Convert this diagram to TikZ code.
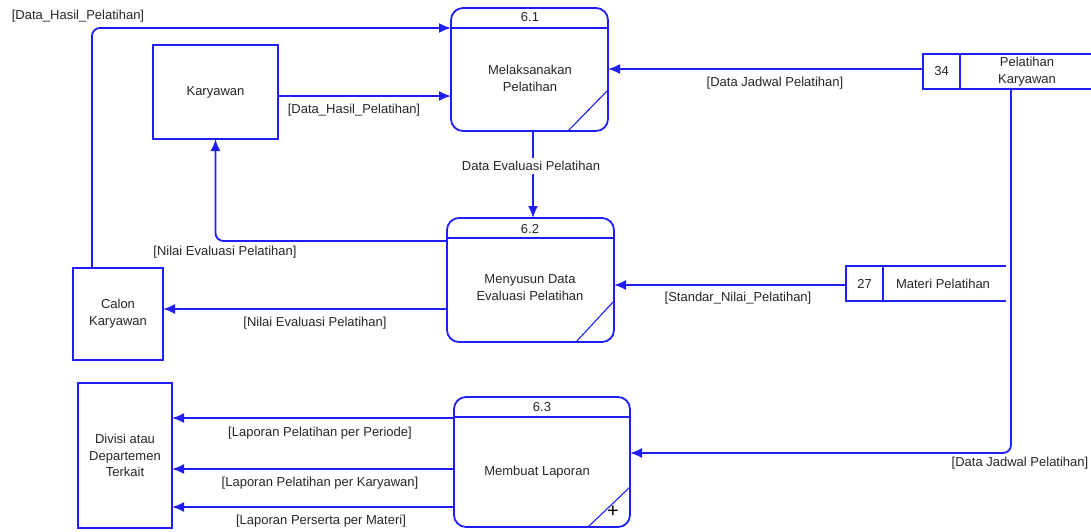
\documentclass[tikz,border=0pt]{standalone}
\usepackage{fontspec}
\setmainfont{Liberation Sans}
\usetikzlibrary{arrows.meta}
\definecolor{dfdblue}{RGB}{30,30,245}
\begin{document}
\begin{tikzpicture}[x=1pt,y=-1pt,
  every node/.style={font=\fontsize{13}{17}\selectfont, text=black!85},
  proc/.style={draw=dfdblue, line width=1.8pt, rounded corners=12pt, inner sep=0pt, outer sep=0pt, align=center},
  ent/.style={draw=dfdblue, line width=1.8pt, inner sep=0pt, outer sep=0pt, align=center},
  stnum/.style={draw=dfdblue, line width=1.8pt, inner sep=0pt, outer sep=0pt, minimum width=37pt, minimum height=35pt},
  flow/.style={draw=dfdblue, line width=1.8pt, -{Latex[length=12pt,width=10pt]}},
  edge/.style={draw=dfdblue, line width=1.8pt},
  slash/.style={draw=dfdblue, line width=1.1pt},
  lbl/.style={inner sep=1pt}
]
\useasboundingbox (0,0) rectangle (1091,531);

% processes
\node[proc, minimum width=157pt, minimum height=123pt] (p1) at (529.5,69.5) {};
\node[proc, minimum width=167pt, minimum height=124pt] (p2) at (530.5,280) {};
\node[proc, minimum width=176pt, minimum height=130pt] (p3) at (542,462) {};
\draw[edge] ([yshift=-20pt]p1.north west) -- ([yshift=-20pt]p1.north east);
\draw[edge] ([yshift=-20pt]p2.north west) -- ([yshift=-20pt]p2.north east);
\draw[edge] ([yshift=-20pt]p3.north west) -- ([yshift=-20pt]p3.north east);
\draw[slash] ([xshift=-40pt]p1.south east) -- ([yshift=41pt]p1.south east);
\draw[slash] ([xshift=-38pt]p2.south east) -- ([yshift=41pt]p2.south east);
\draw[slash] ([xshift=-42pt]p3.south east) -- ([yshift=40pt]p3.south east);
\node (n1) at (530,17) {6.1};
\node (n2) at (530,229) {6.2};
\node (n3) at (542,407) {6.3};
\node[align=center] (t1) at (530,78) {Melaksanakan\\Pelatihan};
\node[align=center] (t2) at (530,288) {Menyusun Data\\Evaluasi Pelatihan};
\node (t3) at (537,472) {Membuat Laporan};
\node[font=\fontsize{20}{20}\selectfont, text=black] (plus) at (613,512) {+};

% external entities
\node[ent, minimum width=125pt, minimum height=94pt] (kar) at (215.5,92) {Karyawan};
\node[ent, minimum width=90pt, minimum height=92pt] (cal) at (118,314) {Calon\\Karyawan};
\node[ent, minimum width=94pt, minimum height=145pt, font=\fontsize{13}{16.5}\selectfont] (div) at (125,455.5) {Divisi atau\\Departemen\\Terkait};

% data stores
\node[stnum] (s34) at (941.5,71.5) {34};
\draw[edge] (s34.north east) -- (1091,54);
\draw[edge] (s34.south east) -- (1091,89);
\node[align=center] (s34t) at (1027,71.5) {Pelatihan\\Karyawan};
\node[stnum] (s27) at (864.5,283.5) {27};
\draw[edge] (s27.north east) -- (1006,266);
\draw[edge] (s27.south east) -- (1006,301);
\node (s27t) at (943,283.5) {Materi Pelatihan};
\coordinate (s34b) at (1011,89);

% flows
\draw[flow, rounded corners=8pt] (cal.north -| 92,0) -- (92,28) -- (p1.west |- 0,28);
\node[lbl] (l1) at (78,16) {[Data\_Hasil\_Pelatihan]};

\draw[flow] (kar.east |- 0,96) -- (p1.west |- 0,96);
\node[lbl] (l2) at (354,110) {[Data\_Hasil\_Pelatihan]};

\draw[flow] (s34.west |- 0,69) -- (p1.east |- 0,69);
\node[lbl] (l3) at (775,83) {[Data Jadwal Pelatihan]};

\node[lbl, fill=white, inner sep=3pt] (l4) at (531,166) {Data Evaluasi Pelatihan};
\draw[edge] (p1.south -| 533,0) -- (l4.north -| 533,0);
\draw[flow] (l4.south -| 533,0) -- (p2.north -| 533,0);

\draw[flow, rounded corners=8pt] (p2.west |- 0,241) -- (kar.south |- 0,241) -- (kar.south);
\node[lbl] (l5) at (225,252) {[Nilai Evaluasi Pelatihan]};

\draw[flow] (p2.west |- 0,309) -- (cal.east |- 0,309);
\node[lbl] (l6) at (315,323) {[Nilai Evaluasi Pelatihan]};

\draw[flow] (s27.west |- 0,285) -- (p2.east |- 0,285);
\node[lbl] (l7) at (738,298) {[Standar\_Nilai\_Pelatihan]};

\draw[flow, rounded corners=8pt] (s34b) -- (1011,453) -- (p3.east |- 0,453);
\node[lbl] (l8) at (1020,463) {[Data Jadwal Pelatihan]};

\draw[flow] (p3.west |- 0,418) -- (div.east |- 0,418);
\node[lbl] (l9) at (320,433) {[Laporan Pelatihan per Periode]};
\draw[flow] (p3.west |- 0,469) -- (div.east |- 0,469);
\node[lbl] (l10) at (320,483) {[Laporan Pelatihan per Karyawan]};
\draw[flow] (p3.west |- 0,507) -- (div.east |- 0,507);
\node[lbl] (l11) at (321,521) {[Laporan Perserta per Materi]};
\end{tikzpicture}
\end{document}
